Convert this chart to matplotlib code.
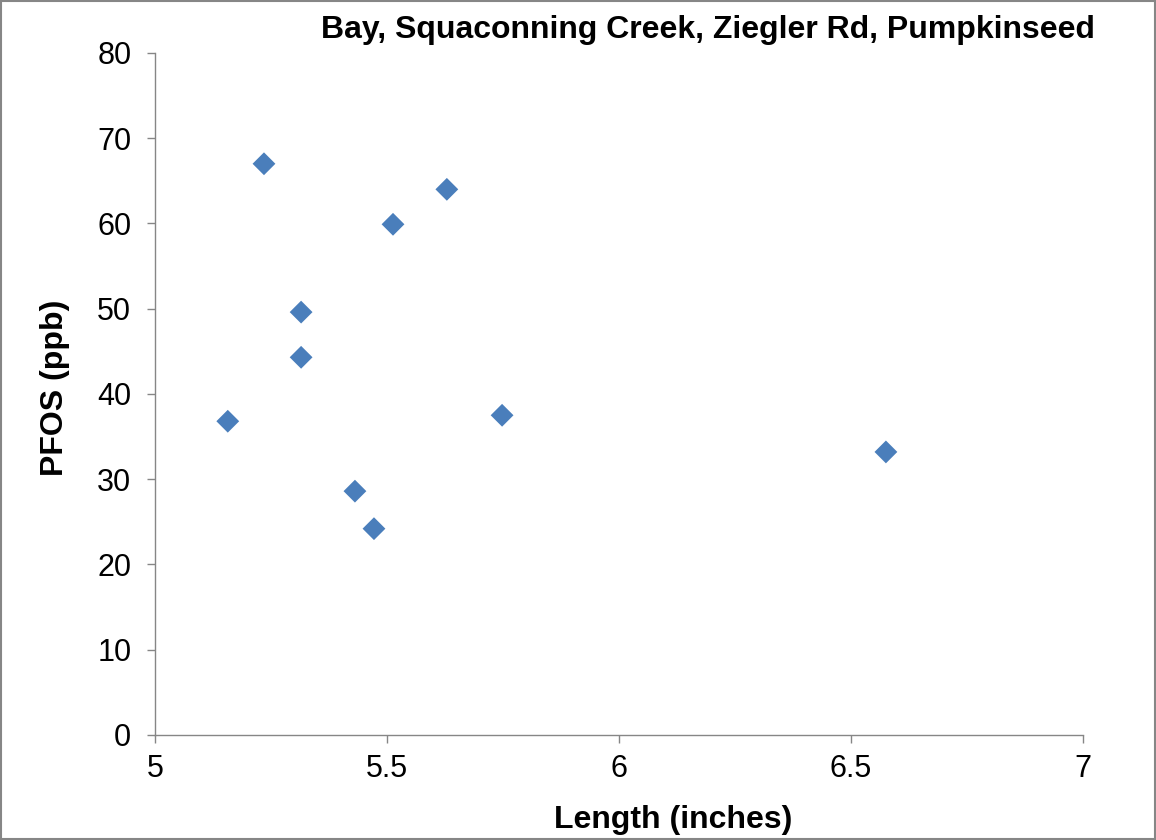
import matplotlib.pyplot as plt
from matplotlib.patches import Rectangle

plt.rcParams['font.family'] = ['Liberation Sans', 'DejaVu Sans']

# Pumpkinseed samples: length (inches) vs PFOS (ppb)
length_in = [5.157, 5.235, 5.315, 5.315, 5.431, 5.472, 5.513, 5.629, 5.748, 6.575]
pfos_ppb = [36.8, 67.0, 49.6, 44.3, 28.6, 24.2, 59.9, 64.0, 37.5, 33.2]

x_ticks = [5, 5.5, 6, 6.5, 7]
x_tick_labels = ['5', '5.5', '6', '6.5', '7']
y_ticks = [0, 10, 20, 30, 40, 50, 60, 70, 80]

title = 'Bay, Squaconning Creek, Ziegler Rd, Pumpkinseed'

fig = plt.figure(figsize=(11.56, 8.40), dpi=100)
ax = fig.add_axes([0.134, 0.125, 0.803, 0.812])

ax.scatter(length_in, pfos_ppb, marker='D', s=135, color='#4A7EBB',
           edgecolors='none', zorder=3)

ax.set_xlim(5, 7)
ax.set_ylim(0, 80)
ax.set_xticks(x_ticks)
ax.set_xticklabels(x_tick_labels)
ax.set_yticks(y_ticks)

for side in ['top', 'right']:
    ax.spines[side].set_visible(False)
for side in ['left', 'bottom']:
    ax.spines[side].set_color('#868686')
    ax.spines[side].set_linewidth(1.0)

ax.tick_params(axis='both', direction='out', length=6, width=1.0,
               color='#868686', labelsize=22)
ax.tick_params(axis='y', pad=11)
ax.tick_params(axis='x', pad=8)

fig.text(673 / 1156, 1 - 820 / 840, 'Length (inches)', ha='center', va='center',
         fontsize=23, fontweight='bold')
fig.text(55 / 1156, 1 - 388 / 840, 'PFOS (ppb)', ha='center', va='center',
         rotation=90, fontsize=23, fontweight='bold')

fig.text(708 / 1156, 1 - 30 / 840, title, ha='center', va='center',
         fontsize=23, fontweight='bold')

# border around the whole chart
fig.patches.append(Rectangle((0.001, 0.001), 0.998, 0.998, transform=fig.transFigure,
                             fill=False, edgecolor='#868686', linewidth=1.5))

plt.savefig('out.png', dpi=100)
